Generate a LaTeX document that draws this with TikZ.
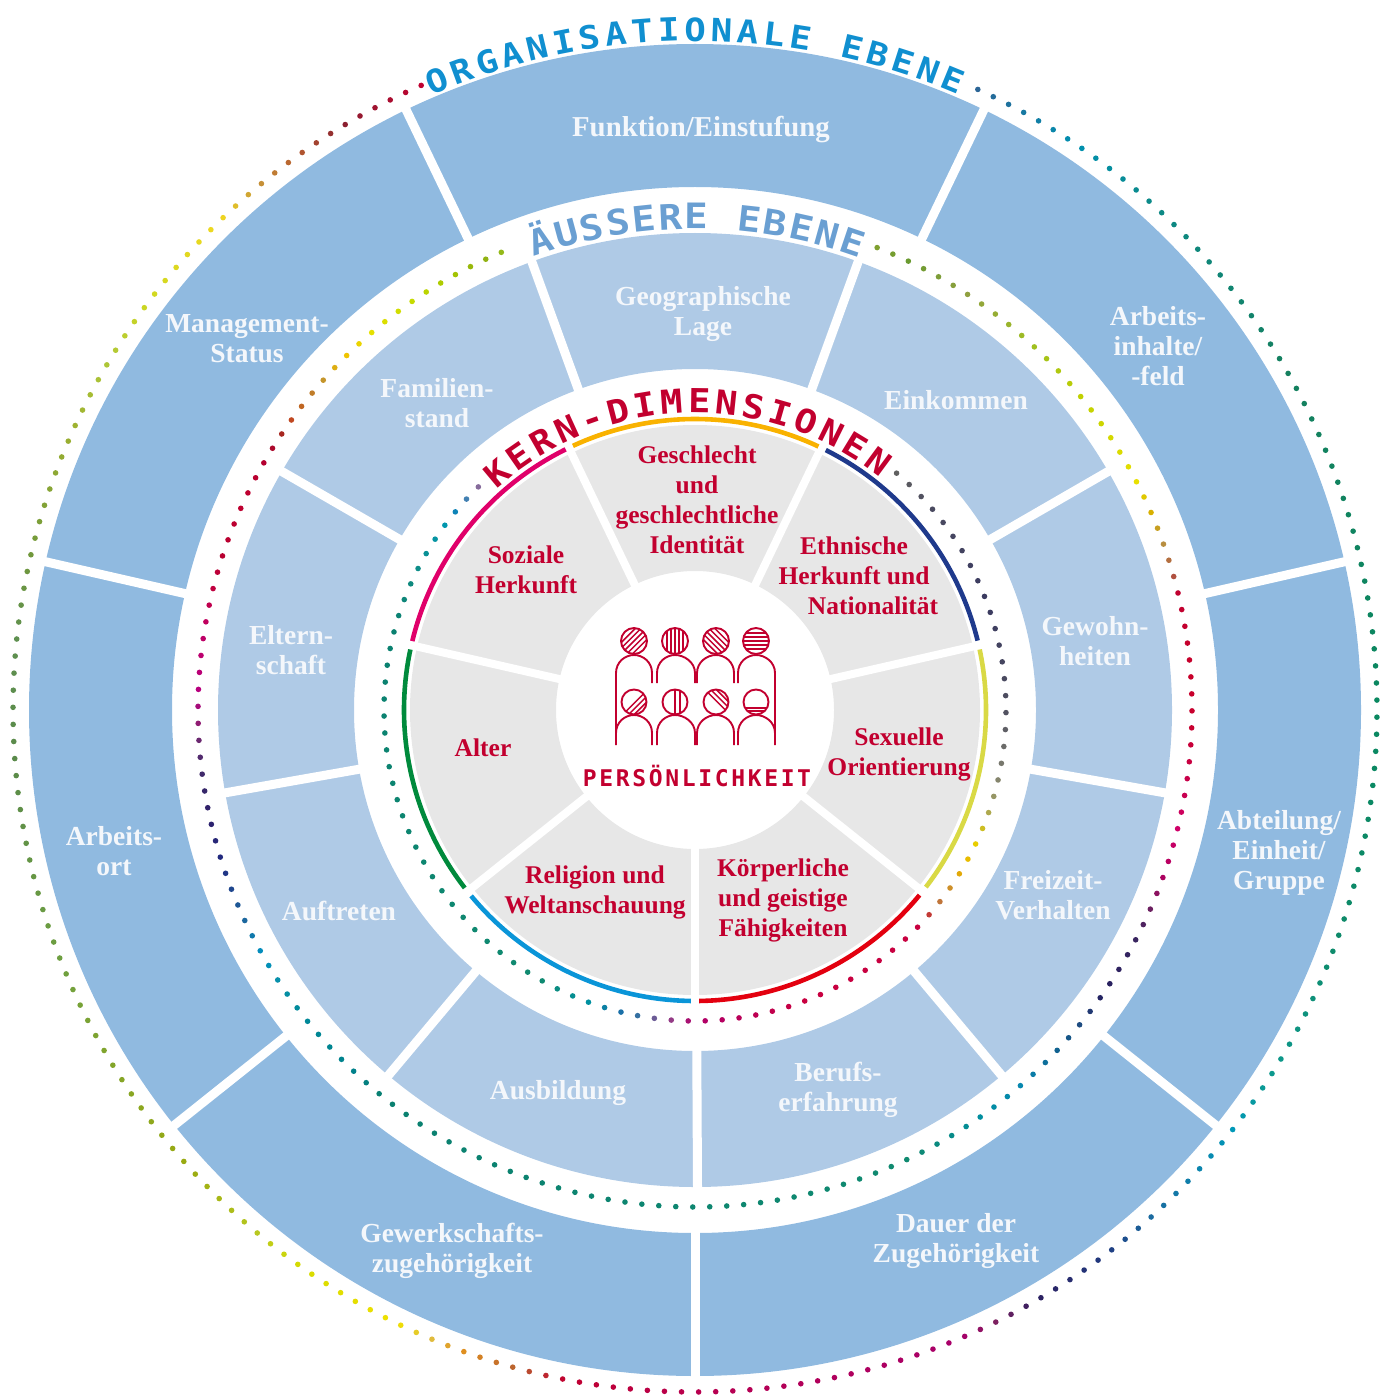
\documentclass[tikz,border=0pt]{standalone}
\usepackage{fontspec}
\usetikzlibrary{decorations.text}
\setmainfont{Liberation Serif}
\newfontfamily\ringfont[FakeStretch=1.12]{DejaVu Sans Mono}
\newfontfamily\persfont[LetterSpace=11.5]{DejaVu Sans Mono}
\definecolor{outerblue}{HTML}{90BAE0}
\definecolor{midblue}{HTML}{AFCAE6}
\definecolor{coregray}{HTML}{E7E7E7}
\definecolor{corered}{HTML}{C2002F}
\definecolor{labelwhite}{HTML}{F4F7FB}
\definecolor{orgblue}{HTML}{108FD0}
\definecolor{aussblue}{HTML}{6A9FD2}
\tikzset{
  outerlabel/.style={text=labelwhite,align=center,inner sep=0pt,font=\fontsize{27.5}{30}\selectfont\bfseries},
  corelabel/.style={text=corered,align=center,inner sep=0pt,font=\fontsize{25.5}{30}\selectfont\bfseries},
  colorarc/.style={line width=4.6pt},
  iconline/.style={draw=corered,line width=1.9pt,line join=round},
  iconhatch/.style={draw=corered,line width=1.5pt}
}
\newcommand{\dotring}[5]{%
  \def\dotstart{#3}%
  \foreach \stopB/\colB [remember=\stopB as \stopA (initially #3), remember=\colB as \colA (initially #4)] in {#5}{%
    \edef\tmpdef{\noexpand\definecolor{dotA}{HTML}{\colA}\noexpand\definecolor{dotB}{HTML}{\colB}}\tmpdef
    \pgfmathtruncatemacro\kfrom{ceil((\dotstart-\stopA)/#2)}%
    \pgfmathtruncatemacro\kto{ceil((\dotstart-\stopB)/#2)-1}%
    \ifnum\kfrom>\kto\else
      \foreach \dk in {\kfrom,...,\kto}{%
        \pgfmathsetmacro\dang{\dotstart-\dk*#2}%
        \pgfmathtruncatemacro\mixp{100*(\dang-(\stopB))/(\stopA-(\stopB))}%
        \fill[dotA!\mixp!dotB] (\dang:#1) circle (2.8);
      }%
    \fi
  }%
}
\newcommand{\hatchhead}[5]{%
  \begin{scope}
    \clip (#1,#2) circle (#3);
    \begin{scope}[shift={(#1,#2)},rotate=#4]
      \foreach \hd in {#5}{\draw[iconhatch] (-20,\hd) -- (20,\hd);}
    \end{scope}
  \end{scope}
  \draw[iconline] (#1,#2) circle (#3);
}
\newcommand{\shoulder}[5]{% xl, xa, xr, apex y, foot y
  \draw[iconline] (#1,#5) -- (#1,#4+18) .. controls (#1,#4+7) and (#2-9,#4) .. (#2,#4)
     .. controls (#2+9,#4) and (#3,#4+7) .. (#3,#4+18) -- (#3,#5);
}
\begin{document}
\begin{tikzpicture}[x=1pt,y=-1pt]
\useasboundingbox (0,0) rectangle (1393,1396);
\begin{scope}[shift={(695,710)},y=1pt]
  % rings
  \fill[outerblue,even odd rule] (0,0) circle (666) (0,0) circle (523);
  \fill[midblue,even odd rule] (0,0) circle (477) (0,0) circle (341);
  \fill[coregray,even odd rule] (0,0) circle (285) (0,0) circle (139);
  % dividers
  \foreach \ang in {64.3,12.86,-38.57,-90,-141.43,-192.86,-244.3}
    \draw[white,line width=9pt] (\ang:519) -- (\ang:670);
  \foreach \ang in {-89.7,-50,-10,30,70,110,150,190,230}
    \draw[white,line width=9pt] (\ang:337) -- (\ang:481);
  \foreach \ang in {64.3,12.86,-38.57,-90,-141.43,-192.86,-244.3}
    \draw[white,line width=8pt] (\ang:135) -- (\ang:289);
  % coloured arcs of the core
  \draw[colorarc,draw={rgb,255:red,249;green,178;blue,0}] (114.8:291) arc[start angle=114.8,end angle=64.9,radius=291];
  \draw[colorarc,draw={rgb,255:red,31;green,58;blue,140}] (63.3:291) arc[start angle=63.3,end angle=13.8,radius=291];
  \draw[colorarc,draw={rgb,255:red,217;green,217;blue,69}] (12:291) arc[start angle=12,end angle=-37.5,radius=291];
  \draw[colorarc,draw={rgb,255:red,227;green,0;blue,15}] (-39.5:291) arc[start angle=-39.5,end angle=-89.2,radius=291];
  \draw[colorarc,draw={rgb,255:red,10;green,149;blue,216}] (-90.8:291) arc[start angle=-90.8,end angle=-140.3,radius=291];
  \draw[colorarc,draw={rgb,255:red,0;green,138;blue,60}] (-142.3:291) arc[start angle=-142.3,end angle=-192,radius=291];
  \draw[colorarc,draw={rgb,255:red,224;green,0;blue,106}] (-193.7:291) arc[start angle=-193.7,end angle=-243.6,radius=291];
  % dotted rings
  \dotring{682}{1.437}{65.5}{2B6596}{56/0090B0,48/0C8A88,30/15805F,0/0A8860,-20/0E8A6A,-33/0D9A90,-38/0098B8,-48/1B6BA0,-53/1F3A80,-60/2D2060,-64/802060,-67/A8006A,-90/B8004F,-101/C00030,-105/B86030,-110/E09020,-113/E0C040,-116/F0E000,-125/D8DC00,-130/B8C820,-138/9AAA10,-158/6FA040,-176/5A8A4A,-186/5F9050,-193/70983C,-204/9CB030,-211/B0C838,-217/D0D820,-226/F0D820,-230/C89838,-234/B86030,-239/8A2030,-246.5/C00030}
  \dotring{497}{1.96}{68.5}{7FA030}{64.5/6A9A30,56.8/90A040,47/A0C020,39/C0D000,27.3/E8E000,23.4/D8B000,19.6/B89040,15.5/B05040,13.6/C00030,3.8/C8002A,-2/C80030,-9.7/C80050,-13.7/D00068,-19.5/B00060,-23.4/702060,-27/3A2560,-35/252060,-39/1F4A80,-43/10608F,-48.9/0888B0,-54.8/008EA0,-60.6/0A8A80,-64.5/108A70,-129/0A8070,-132.9/00808A,-142.8/008A9A,-146.6/0890A8,-150.6/0090C0,-154.4/1A6CA0,-158.4/1F4A90,-162.3/202A80,-168.2/30206A,-172/3A2A6A,-176/602A70,-178/8A2070,-182/B80080,-190/C00060,-194/C00040,-198/B80030,-205.4/C00030,-211.2/B00030,-213.3/A02020,-215.3/C04020,-217.2/C06020,-221.2/C09030,-225/F0C000,-229/E8E000,-235/C8DC00,-240.4/A8C800,-244.6/90B010,-249/98C020}
  \dotring{311}{3.13}{49.6}{606060}{40/4A4A60,20/3A3A60,0/505060,-12/808070,-18/A0A060,-25/E8D000,-31/E8B000,-37/C08040,-40/C06030,-43/C80040,-70/C80040,-90/B0006A,-96/8A5090,-100/3A70A0,-104/1870A8,-110/0090A0,-120/108A70,-195/0A8070,-205/108A80,-217/0098B0,-220/1080B8,-223.5/5080B0,-227/A06090}
  % ring titles
  \path[decorate,decoration={text along path,text align={fit to path},
      text={|\fontsize{32}{32}\ringfont\bfseries\color{orgblue}|ORGANISATIONALE EBENE}}]
    (113.2:669) arc[start angle=113.2,end angle=66.8,radius=669];
  \path[decorate,decoration={text along path,text align={fit to path},
      text={|\fontsize{35}{35}\ringfont\bfseries\color{aussblue}|ÄUSSERE EBENE}}]
    (109.6:481) arc[start angle=109.6,end angle=70,radius=481];
  \path[decorate,decoration={text along path,text align={fit to path},
      text={|\fontsize{33}{33}\ringfont\bfseries\color{corered}|KERN-DIMENSIONEN}}]
    (132:297) arc[start angle=132,end angle=51.5,radius=297];
\end{scope}
% labels of the outer ring
\node[outerlabel,font=\fontsize{28.8}{30}\selectfont\bfseries] (funktion) at (701,130) {Funktion/Einstufung};
\node[outerlabel] (inhalte) at (1158,346) {Arbeits-\\inhalte/\\-feld};
\node[outerlabel] (abteilung) at (1279,853) {Abteilung/\\Einheit/\\Gruppe};
\node[outerlabel] (dauer) at (956,1241) {Dauer der\\Zugehörigkeit};
\node[outerlabel] (gewerk) at (452,1251) {Gewerkschafts-\\zugehörigkeit};
\node[outerlabel] (ort) at (114,851) {Arbeits-\\ort};
\node[outerlabel] (mgmt) at (247,339) {Management-\\Status};
% labels of the middle ring
\node[outerlabel] (geo) at (703,314) {Geographische\\Lage};
\node[outerlabel] (einkommen) at (956,400) {Einkommen};
\node[outerlabel] (gewohn) at (1095,641) {Gewohn-\\heiten};
\node[outerlabel] (freizeit) at (1053,895) {Freizeit-\\Verhalten};
\node[outerlabel] (berufs) at (838,1090) {Berufs-\\erfahrung};
\node[outerlabel] (ausbildung) at (558,1093) {Ausbildung};
\node[outerlabel] (auftreten) at (339,911) {Auftreten};
\node[outerlabel] (eltern) at (291,650) {Eltern-\\schaft};
\node[outerlabel] (familie) at (437,403) {Familien-\\stand};
% labels of the core
\node[corelabel] (geschlecht) at (697,500) {Geschlecht\\und\\geschlechtliche\\Identität};
\node[corelabel] (ethnisch) at (854,576) {Ethnische\\Herkunft und\\\hspace*{38pt}Nationalität};
\node[corelabel] (sexuell) at (899,754) {Sexuelle\\Orientierung};
\node[corelabel] (koerper) at (783,900) {Körperliche\\und geistige\\Fähigkeiten};
\node[corelabel] (religion) at (595,892) {Religion und\\Weltanschauung};
\node[corelabel] (alter) at (483,748) {Alter};
\node[corelabel] (sozial) at (526,570) {Soziale\\Herkunft};
% icon
\hatchhead{634}{641}{13}{45}{-8,-4,0,4,8}
\hatchhead{675}{641}{13}{90}{-8,-4,0,4,8}
\hatchhead{716}{641}{13}{-45}{-8,-4,0,4,8}
\hatchhead{756}{641}{13}{0}{-8,-4,0,4,8}
\hatchhead{634}{702}{12.5}{45}{1,5,9}
\hatchhead{675}{702}{12.5}{90}{0,5}
\hatchhead{716}{702}{12.5}{-45}{-9,-5,-1}
\hatchhead{756}{702}{12.5}{0}{6,9}
\shoulder{616}{634}{652}{655}{683}
\shoulder{657}{675}{695}{655}{683}
\shoulder{697}{716}{734}{655}{683}
\shoulder{738}{756}{775}{655}{683}
\draw[iconline] (616,745) -- (616,673);
\draw[iconline] (775,745) -- (775,673);
\shoulder{616}{634}{652}{715}{745}
\shoulder{657}{675}{695}{715}{745}
\shoulder{697}{716}{734}{715}{745}
\shoulder{738}{756}{775}{715}{745}
\node[text=corered,inner sep=0pt,font=\fontsize{23}{23}\persfont\bfseries] (pers) at (697,776) {PERSÖNLICHKEIT};
\end{tikzpicture}
\end{document}
